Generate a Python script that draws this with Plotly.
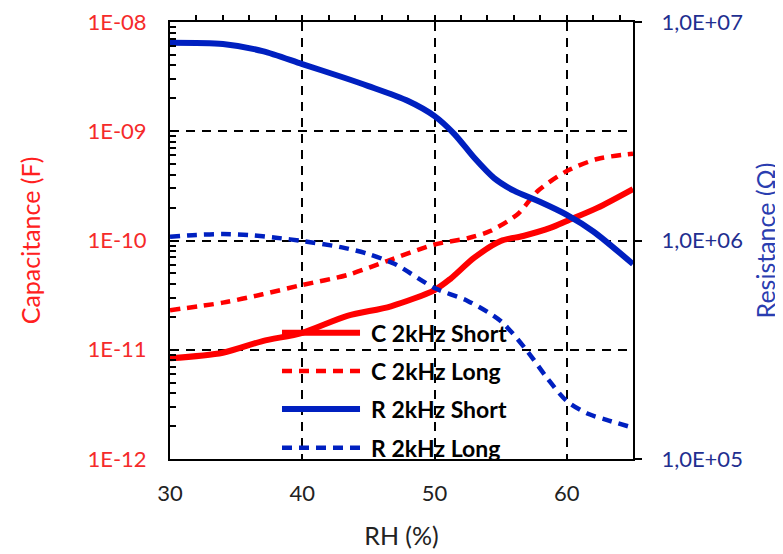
import plotly.graph_objects as go

# ---------------- data ----------------
rh_c_short = [30, 34, 37, 40, 43.4, 46.7, 50, 51.2, 53, 55, 56.7, 58.8, 60, 62.3, 65]
c_short = [8.35e-12, 9.4e-12, 1.2e-11, 1.43e-11, 2.04e-11, 2.5e-11, 3.52e-11,
           4.46e-11, 6.96e-11, 9.9e-11, 1.10e-10, 1.31e-10, 1.51e-10, 1.99e-10, 2.96e-10]

rh_c_long = [30, 34, 37, 40, 43.4, 46.4, 50, 52.5, 54.2, 56.3, 57.8, 60, 62.3, 65]
c_long = [2.30e-11, 2.70e-11, 3.22e-11, 3.92e-11, 4.83e-11, 6.49e-11, 9.2e-11,
          1.05e-10, 1.22e-10, 1.75e-10, 2.84e-10, 4.32e-10, 5.57e-10, 6.24e-10]

rh_r_short = [30, 34, 37, 40, 43, 45, 48, 50, 51.5, 53, 54.5, 56, 58, 60, 62, 65]
r_short = [8.04e6, 7.93e6, 7.36e6, 6.42e6, 5.6e6, 5.09e6, 4.35e6, 3.71e6, 3.07e6,
           2.39e6, 1.93e6, 1.69e6, 1.50e6, 1.31e6, 1.10e6, 7.8e5]

rh_r_long = [30, 32, 34, 36, 38, 40, 43, 45, 47, 50, 52.5, 55, 57, 58.5, 60, 61.6, 63, 65]
r_long = [1.04e6, 1.06e6, 1.07e6, 1.06e6, 1.03e6, 9.95e5, 9.3e5, 8.67e5, 7.8e5,
          6.06e5, 5.29e5, 4.28e5, 3.12e5, 2.35e5, 1.84e5, 1.61e5, 1.51e5, 1.39e5]

series_names = ["C 2kHz Short", "C 2kHz Long", "R 2kHz Short", "R 2kHz Long"]

x_ticks = [30, 40, 50, 60]
top_minor_ticks = [32, 34, 36, 38, 40, 42, 44, 46, 48, 50, 52, 54, 56, 58, 60, 62, 64]
left_ticks = [1e-12, 1e-11, 1e-10, 1e-9, 1e-8]
left_ticktext = ["1E-12", "1E-11", "1E-10", "1E-09", "1E-08"]
right_ticks = [1e5, 1e6, 1e7]
right_ticktext = ["1,0E+05", "1,0E+06", "1,0E+07"]

RED = "#FF0000"
BLUE = "#0020C0"
FONT = "Lato"
DASH = "10px,7px"

fig = go.Figure()
fig.add_trace(go.Scatter(x=rh_c_short, y=c_short, mode="lines", name=series_names[0],
                         line=dict(color=RED, width=6, shape="spline", smoothing=0.8), yaxis="y"))
fig.add_trace(go.Scatter(x=rh_c_long, y=c_long, mode="lines", name=series_names[1],
                         line=dict(color=RED, width=4.5, dash=DASH, shape="spline", smoothing=0.8), yaxis="y"))
fig.add_trace(go.Scatter(x=rh_r_short, y=r_short, mode="lines", name=series_names[2],
                         line=dict(color=BLUE, width=6, shape="spline", smoothing=0.8), yaxis="y2"))
fig.add_trace(go.Scatter(x=rh_r_long, y=r_long, mode="lines", name=series_names[3],
                         line=dict(color=BLUE, width=4.5, dash=DASH, shape="spline", smoothing=0.8), yaxis="y2"))
# invisible trace to anchor the top axis
fig.add_trace(go.Scatter(x=[30, 65], y=[1e-12, 1e-12], mode="lines", xaxis="x2", yaxis="y",
                         line=dict(width=0), hoverinfo="skip", showlegend=False, opacity=0))

minor_left = [m * 10.0 ** e for e in range(-12, -8) for m in range(2, 10)]

fig.update_layout(
    width=783, height=554,
    margin=dict(l=162, r=158, t=14, b=103),
    plot_bgcolor="white", paper_bgcolor="white",
    showlegend=False,
    font=dict(family=FONT, size=22, color="#222222"),
    xaxis=dict(range=[30, 65], tickvals=x_ticks, showline=True, linecolor="black", linewidth=2,
               showgrid=True, gridcolor="black", gridwidth=2, griddash="9px,7px",
               ticks="", ticklabelstandoff=14, tickfont=dict(size=22, color="#222222"),
               title=dict(text="RH (%)", font=dict(size=25, color="#222222"), standoff=22),
               zeroline=False, automargin=False, ticklabeloverflow="allow"),
    xaxis2=dict(range=[30, 65], overlaying="x", side="top", anchor="y",
                tickvals=top_minor_ticks,
                ticks="outside", ticklen=5, tickwidth=2, tickcolor="black",
                showticklabels=False, showline=True, linecolor="black", linewidth=2,
                showgrid=False, zeroline=False, automargin=False),
    yaxis=dict(type="log", range=[-12, -8], tickvals=left_ticks, ticktext=left_ticktext,
               showline=True, linecolor="black", linewidth=2,
               showgrid=True, gridcolor="black", gridwidth=2, griddash="9px,7px",
               ticks="inside", ticklen=8, tickwidth=2, tickcolor="black",
               minor=dict(tickmode="array", tickvals=minor_left, ticks="inside", ticklen=6,
                          tickwidth=2, tickcolor="black", showgrid=False),
               ticklabelstandoff=17, ticklabeloverflow="allow",
               tickfont=dict(size=22, color="#F52A2A"),
               title=dict(text="Capacitance (F)", font=dict(size=25, color="#FF2020"), standoff=40),
               zeroline=False, automargin=False),
    yaxis2=dict(type="log", range=[5, 7], overlaying="y", side="right",
                tickvals=right_ticks, ticktext=right_ticktext,
                showline=True, linecolor="black", linewidth=2, showgrid=False,
                ticks="outside", ticklen=7, tickwidth=2, tickcolor="black",
                ticklabelstandoff=15, ticklabeloverflow="allow",
                tickfont=dict(size=22, color="#1F2F90"),
                title=dict(text="Resistance (Ω)", font=dict(size=25, color="#2A3DB0"), standoff=16),
                zeroline=False, automargin=False),
)

# manual legend (sample lines + labels)
legend_rows = [0.289, 0.2014, 0.1144, 0.0259]
legend_styles = [(RED, 6, "solid"), (RED, 4.5, DASH), (BLUE, 6, "solid"), (BLUE, 4.5, DASH)]
for name, yy, (col, w, dash) in zip(series_names, legend_rows, legend_styles):
    fig.add_shape(type="line", xref="paper", yref="paper", x0=0.2419, x1=0.4104, y0=yy, y1=yy,
                  line=dict(color=col, width=w, dash=dash))
    fig.add_annotation(xref="paper", yref="paper", x=0.4298, y=yy, text="<b>" + name + "</b>",
                       showarrow=False, xanchor="left", yanchor="middle",
                       font=dict(family=FONT, size=23, color="black"))

fig.write_html("out.html")
